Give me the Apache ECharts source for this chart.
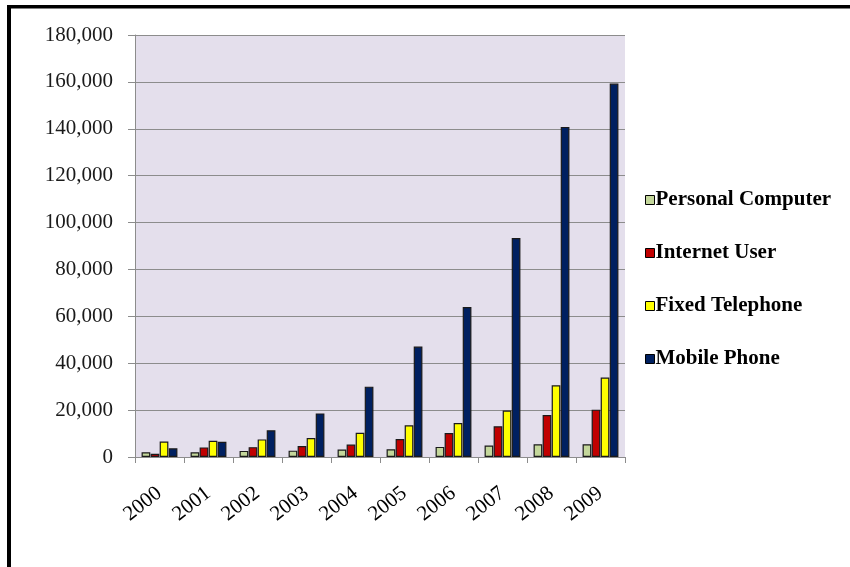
<!DOCTYPE html>
<html>
<head>
<meta charset="utf-8">
<script src="https://cdn.jsdelivr.net/npm/echarts@6/dist/echarts.min.js"></script>
<style>
  html, body { margin: 0; padding: 0; background: #ffffff; }
  #chart { width: 850px; height: 567px; }
</style>
</head>
<body>
<div id="chart"></div>
<script>
// Subscribers / users per year (thousands)
const years = ['2000', '2001', '2002', '2003', '2004', '2005', '2006', '2007', '2008', '2009'];
const personalComputer = [2000, 2000, 2600, 2700, 3200, 3300, 4300, 4900, 5400, 5400];
const internetUser     = [1400, 4100, 4200, 4700, 5300, 7700, 10200, 13100, 17900, 20200];
const fixedTelephone   = [6600, 6900, 7500, 8100, 10300, 13500, 14500, 19800, 30600, 33900];
const mobilePhone      = [3700, 6500, 11400, 18600, 30000, 47100, 64000, 93400, 140800, 159300];
const yTicks = [0, 20000, 40000, 60000, 80000, 100000, 120000, 140000, 160000, 180000];

const seriesNames = ['Personal Computer', 'Internet User', 'Fixed Telephone', 'Mobile Phone'];
const seriesColors = ['#c4d79b', '#c00000', '#ffff00', '#002060'];
const seriesData = [personalComputer, internetUser, fixedTelephone, mobilePhone];

const serif = '"Liberation Serif", "DejaVu Serif", serif';

const chart = echarts.init(document.getElementById('chart'), null, { renderer: 'canvas' });

chart.setOption({
  backgroundColor: '#ffffff',
  animation: false,
  grid: {
    left: 135, top: 35, width: 490, height: 422,
    show: true, backgroundColor: '#e4dfec', borderWidth: 0
  },
  legend: {
    orient: 'vertical',
    left: 640, top: 184,
    itemWidth: 9, itemHeight: 9, itemGap: 31,
    icon: 'rect',
    data: seriesNames,
    textStyle: {
      fontFamily: serif, fontSize: 21, fontWeight: 'bold', color: '#000000',
      lineHeight: 22, padding: [0, 0, 0, -4]
    },
    itemStyle: { borderColor: '#000000', borderWidth: 1 }
  },
  xAxis: {
    type: 'category',
    data: years,
    axisLine: { lineStyle: { color: '#8c8c8c', width: 1 } },
    axisTick: { show: true, length: 6, lineStyle: { color: '#8c8c8c' } },
    axisLabel: {
      rotate: 38, fontFamily: serif, fontSize: 21, color: '#000000', margin: 34
    }
  },
  yAxis: {
    type: 'value',
    min: yTicks[0], max: yTicks[yTicks.length - 1], interval: 20000,
    axisLine: { show: true, lineStyle: { color: '#8c8c8c', width: 1 } },
    axisTick: { show: true, length: 7, lineStyle: { color: '#8c8c8c' } },
    splitLine: { show: true, lineStyle: { color: '#8c8c8c', width: 1 } },
    axisLabel: {
      fontFamily: serif, fontSize: 21, color: '#1a1a1a', margin: 22,
      formatter: v => v.toLocaleString('en-US')
    }
  },
  series: seriesNames.map((name, i) => ({
    name: name,
    type: 'bar',
    data: seriesData[i],
    barWidth: 8.7,
    barGap: '4%',
    itemStyle: { color: seriesColors[i], borderColor: '#1a1a1a', borderWidth: 1.2 }
  })),
  graphic: [
    { type: 'rect', shape: { x: 7, y: 5, width: 843, height: 3.5 }, style: { fill: '#000000' }, silent: true },
    { type: 'rect', shape: { x: 7, y: 5, width: 4, height: 562 }, style: { fill: '#000000' }, silent: true }
  ]
});
</script>
</body>
</html>
